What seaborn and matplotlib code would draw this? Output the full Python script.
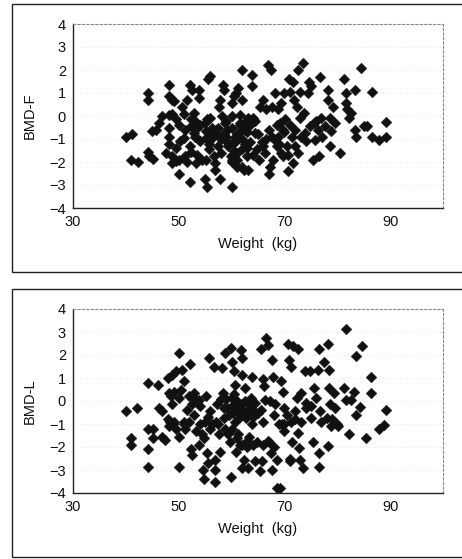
import numpy as np
import pandas as pd
import matplotlib
matplotlib.use("Agg")
import matplotlib.pyplot as plt
import seaborn as sns
from matplotlib.patches import Rectangle

# ---- data: BMD-F (femur) vs weight ----
wf = [40, 41.2, 41, 42.3, 44.1, 44.1, 44.1, 44.4, 45.2, 45, 45.7, 46.2, 46.9, 47.6,
      48.1, 48.2, 48.8, 49.1, 48.2, 48.8, 48.1, 48.2, 48.1, 48.8, 48.8, 49.4, 49.4,
      50.1, 50.2, 50.1, 50.1, 50.7, 51, 51.2, 51, 51.2, 51.6, 52.1, 52.3, 52.3, 52.1,
      52.3, 52.1, 52.6, 52.9, 53.2, 52.9, 53.2, 53.5, 53.8, 53.8, 54.1, 53.8, 54.4,
      54.9, 55.1, 55.2, 55.4, 55.4, 55.6, 56, 55.4, 55.7, 55.8, 56, 56.3, 56.6, 56.8,
      56.9, 57.3, 57.9, 57.6, 57.9, 58.3, 58.5, 58.2, 58.7, 59.1, 58.8, 59.4, 59.8,
      60, 60.1, 60.1, 60.1, 60.4, 60.6, 60.7, 61, 60.8, 61.3, 61.6, 61.6, 61.9, 61.9,
      61.9, 62.3, 62.6, 62.9, 63.1, 63.2, 63.5, 63.8, 63.9, 64.1, 64.4, 64.8, 65.1,
      65.4, 65.7, 66, 66.3, 66.6, 66.8, 67, 67.2, 67.4, 67.6, 67.7, 67.9, 68.2, 68.5,
      68.7, 68.8, 69.1, 69.3, 69.4, 69.7, 69.7, 70, 70.1, 70.4, 70.7, 70.7, 70.8, 71,
      71.4, 71.6, 71.6, 71.8, 72, 72.3, 72.5, 72.6, 72.9, 72.9, 73.2, 73.5, 73.7, 73.8,
      74.4, 74.6, 74.8, 75.1, 75.4, 75.6, 75.8, 76.3, 76.6, 76.8, 77, 77.1, 77.6, 78.2,
      78.3, 78.6, 78.6, 78.9, 79.2, 79.5, 80.6, 81.3, 81.6, 81.6, 81.9, 82.2, 82.5,
      83.3, 83.3, 83.5, 84.4, 85.1, 85.6, 86.6, 86.6, 87.9, 89.2, 89.3,
      57, 58, 59, 60, 61, 62, 63, 59.5, 60.5, 61.5, 62.5, 58.5, 57.5, 56.5, 63.5, 64,
      60, 61, 62, 54, 55, 53, 66, 65, 67, 68, 69, 70, 71, 59, 60.5, 62, 63, 64.5,
      56, 57.5, 61, 62.8, 55.8, 58, 66.5, 68.5, 72, 74, 76, 53.5, 51.5, 49.5]
bf = [-0.9, -0.8, -1.9, -2.0, 1.0, 0.7, -1.55, -1.75, -1.85, -0.65, -0.6, -0.3, 0.0,
      -1.6, 1.35, 0.85, 0.7, 0.65, 0.05, 0.1, -0.5, -0.9, -1.2, -1.75, -2.05, -1.95,
      -0.15, -0.4, -1.1, -1.9, -2.5, 0.4, 0.1, -0.6, -0.95, -1.75, 0.7, 1.35, -0.15,
      -0.45, -1.3, -1.55, -2.85, 1.15, 0.15, -0.25, -0.75, -2.05, -1.7, 1.15, 0.8,
      -0.4, -1.05, -1.9, -2.75, -1.9, -0.65, -0.9, -0.15, 1.6, 1.75, -3.1, -1.2,
      -1.45, -0.1, -0.5, -1.75, -2.05, -2.35, -0.75, -2.75, 0.4, 0.7, 1.35, 1.15, 0.0,
      -0.3, -0.6, -1.05, -1.3, -1.75, -3.1, -1.9, 0.0, 0.55, 0.85, -0.9, -1.15, -2.2,
      1.0, 1.2, 0.05, -0.4, 2.0, 0.7, -1.45, -2.35, -0.6, -1.75, -0.1, -2.35, -1.15,
      1.8, 1.3, -0.1, -0.75, -1.45, -1.9, 0.4, -1.15, 0.7, -1.6, 0.3, 2.2, -2.5, -2.2,
      2.0, -0.9, 0.4, -1.9, 1.0, -1.3, -0.9, 0.3, -0.3, -1.6, 0.55, -0.6, -1.75, 1.0,
      -0.15, -1.3, -2.4, -1.7, 1.6, 1.05, -0.9, -2.05, 1.5, 0.7, -1.3, 0.4, 2.0, -1.6,
      1.05, -0.1, -0.9, 2.3, 0.15, -0.75, 1.0, 1.5, -0.45, 1.3, -1.9, -0.3, -1.05,
      -0.6, -1.75, 1.7, -0.1, -0.9, -0.45, 1.15, 0.7, -0.1, -1.3, -0.65, 0.4, -0.3,
      -1.6, 1.6, 1.0, 0.55, 0.3, -0.1, 0.15, 1.15, -0.6, -0.9, 2.1, -0.45, -0.45,
      1.05, -0.9, -1.05, -0.25, -0.9,
      -0.6, -1.0, -0.2, -0.5, -0.8, -1.0, -0.7, -1.2, -1.5, -0.3, -1.2, -0.8, -1.3,
      -0.9, -0.4, -1.7, -2.0, -1.9, -2.2, -1.1, -0.3, -0.9, -1.3, -0.8, -0.6, -1.0,
      -1.2, -0.7, -0.4, -0.9, -1.1, -0.6, -1.4, -0.2, -0.7, -0.5, -1.6, -0.2, -1.1,
      -1.6, -1.0, -0.4, -0.6, -1.1, -0.2, -0.5, -2.0, -1.4]

# ---- data: BMD-L (lumbar) vs weight ----
wl = [40.1, 42.1, 41, 41, 44.1, 44.1, 45.1, 44.1, 44.1, 45.1, 46, 46.2, 46.9, 46.9,
      47.4, 47.9, 48.2, 48.5, 48.8, 48.3, 48.2, 48.8, 49.1, 49.1, 49.4, 49.4, 50.1,
      50.1, 50.1, 50.1, 50.4, 50.7, 51, 51, 51.2, 51.6, 52.1, 51.9, 52.3, 52.6, 52.6,
      52.9, 52.9, 53.2, 53.8, 53.8, 54.1, 54.4, 54.7, 54.6, 54.7, 55.1, 55.4, 55.6,
      55.8, 56, 56.3, 56.6, 56.8, 56.9, 56.9, 57.3, 57.6, 57.9, 58.2, 58.3, 58.5, 58.7,
      58.8, 59.1, 59.4, 59.7, 59.9, 59.9, 60.1, 60.1, 60.4, 60.6, 60.7, 60.8, 61, 61.2,
      61.3, 61.6, 61.8, 61.9, 61.9, 61.9, 61.9, 62.3, 62.6, 62.7, 62.9, 63.1, 63.3,
      63.7, 63.8, 63.9, 64.1, 64.4, 64.8, 65.4, 65.6, 65.7, 66, 66.2, 66.3, 66.6, 66.8,
      66.9, 67.2, 67.4, 67.6, 67.7, 67.9, 68.1, 68.2, 68.5, 68.5, 69.1, 69.4, 69.6,
      69.7, 69.9, 70, 70.4, 70.7, 70.8, 71, 71.2, 71.3, 71.4, 71.6, 72, 72.3, 72.5,
      72.6, 72.8, 72.9, 73.1, 73.2, 73.5, 73.8, 74.1, 74.8, 75.1, 75.4, 75.6, 76, 76.3,
      76.5, 76.6, 76.6, 76.8, 77, 77.4, 78.1, 78.2, 78.3, 78.5, 78.5, 78.7, 78.8, 79.3,
      79.6, 80.2, 81.3, 81.6, 81.6, 82.2, 82.5, 83.2, 83.5, 83.5, 84.3, 84.6, 85.4,
      86.3, 86.4, 87.9, 88.9, 89.3,
      58.5, 59, 59.5, 60, 60.5, 61.5, 62, 62.5, 63, 63.5, 64, 65, 66, 60, 61, 62, 63,
      64, 57, 56, 55, 54, 53, 52, 51, 49, 48, 66, 67, 68, 69, 70, 72, 74, 75, 79, 80,
      71, 58, 61, 63.5, 65.5, 55.5, 57.5, 60.2, 62.2, 64.5]
bl = [-0.42, -0.3, -1.6, -1.9, 0.8, -1.2, -1.2, -2.1, -2.85, -1.6, 0.7, -0.3, -0.45,
      -1.55, -1.7, 1.0, 0.35, 0.2, 1.15, -0.9, -1.1, -0.15, 0.4, -0.9, 1.3, -1.2, 2.1,
      0.15, -1.55, -2.85, 0.5, 1.35, 0.85, -0.9, -1.2, -0.4, 1.6, 0.2, -2.1, -2.35,
      -0.15, 0.35, -0.6, -1.3, 0.05, -1.9, -1.0, -1.45, -1.6, -3.0, -3.4, 0.2, -2.25,
      -2.7, 1.85, -0.45, -1.0, 1.5, -2.55, -3.0, -3.5, -0.15, -1.45, -2.2, 1.45, 0.35,
      -0.75, -1.2, 2.1, -0.3, -1.45, -1.8, 2.3, -3.3, 1.7, 0.15, 1.3, -0.9, 0.7, -2.2,
      0.0, -0.45, -1.45, -1.9, 2.2, 1.85, 1.15, -0.15, -2.9, -2.55, 0.55, -0.75, -1.75,
      -2.9, -1.55, 0.15, 1.05, -1.0, -0.4, -2.6, -1.8, -3.05, 2.25, -2.6, 0.95, 0.65,
      0.05, 2.75, 2.45, -1.75, 0.0, -2.25, -3.0, 1.8, 1.05, -0.6, -0.15, -2.55, -3.8,
      -3.8, 0.85, -1.0, 0.4, -1.3, -0.3, -0.6, 2.5, 1.8, -2.6, -0.9, 1.5, -1.8, 2.4,
      -0.45, 0.15, -1.4, 2.25, -2.05, -2.55, 0.35, -0.9, -2.9, 1.3, -0.1, 1.3, -0.75,
      -1.8, 0.55, 0.15, 1.35, 2.25, -2.25, -2.85, -0.45, -0.9, 1.7, -0.75, 2.5, -1.95,
      1.35, 0.55, -0.15, -1.1, 0.35, -0.3, -1.1, 0.55, 3.15, 0.05, -1.45, 0.05, 0.4,
      1.95, -0.6, -0.25, 2.4, -1.6, 1.05, 0.35, -1.2, -1.05, -0.4,
      -0.3, 0.1, -0.6, -0.2, 0.3, -0.7, -0.4, 0.0, -0.5, -0.2, -0.7, -0.5, -0.9, -1.2,
      -1.6, -1.9, -2.0, -1.9, -0.9, -1.2, -0.9, -0.2, 0.1, -0.9, -1.0, -1.0, -0.8,
      -1.9, -1.8, -2.0, -1.0, -1.0, -0.8, -0.3, -0.2, -0.8, -1.0, -2.5, 0.1, -0.2,
      -0.3, -0.4, -0.7, -1.0, -0.5, -0.6, -0.1]

x_ticks = [30, 50, 70, 90]
y_ticks = [-4, -3, -2, -1, 0, 1, 2, 3, 4]
panels = [("BMD-F", wf, bf), ("BMD-L", wl, bl)]

sns.set_theme(style="white")
plt.rcParams['font.family'] = ['Liberation Sans', 'DejaVu Sans']

W, H = 462, 559
fig = plt.figure(figsize=(W / 100, H / 100), dpi=100)
fig.patch.set_facecolor("white")

# outer frames (pixel coords from top)
for (top, bot) in [(4, 272), (289, 557)]:
    fig.patches.append(Rectangle((12 / W, 1 - bot / H), (475 - 12) / W, (bot - top) / H,
                                 transform=fig.transFigure, fill=False,
                                 edgecolor="#222222", linewidth=1.0))

axes_px = [(24, 208), (309, 493)]
for (label, xs, ys), (top, bot) in zip(panels, axes_px):
    ax = fig.add_axes([73 / W, 1 - bot / H, (443 - 73) / W, (bot - top) / H])
    df = pd.DataFrame({"Weight": xs, "BMD": ys})
    sns.scatterplot(data=df, x="Weight", y="BMD", ax=ax, marker="D", s=30,
                    color="#111111", edgecolor="#111111", linewidth=0.3)
    ax.set_xlim(30, 100)
    ax.set_ylim(-4, 4)
    ax.set_xticks(x_ticks)
    ax.set_yticks(y_ticks)
    ax.tick_params(length=0, labelsize=10.5, colors="#111111", pad=5)
    ax.set_xlabel("Weight  (kg)", fontsize=10.5, color="#111111", labelpad=6)
    ax.set_ylabel(label, fontsize=10.5, color="#111111", labelpad=9)
    for s in ["left", "bottom"]:
        ax.spines[s].set_color("#222222")
        ax.spines[s].set_linewidth(1.0)
    for s in ["top", "right"]:
        ax.spines[s].set_color("#888888")
        ax.spines[s].set_linewidth(0.8)
        ax.spines[s].set_linestyle((0, (2, 2)))
    ax.yaxis.grid(True, color="#dddddd", linestyle=(0, (1, 3)), linewidth=0.6)
    ax.set_axisbelow(True)

fig.savefig("out.png", dpi=100, facecolor="white")
